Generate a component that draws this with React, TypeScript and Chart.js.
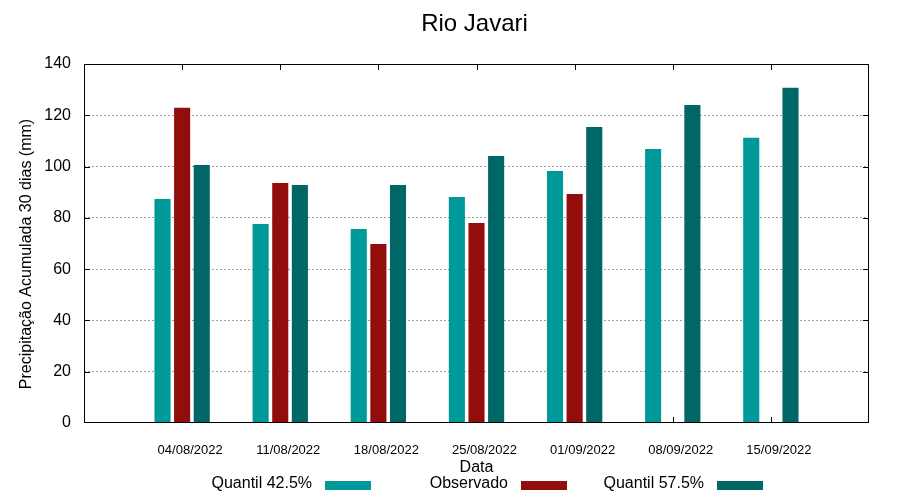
import { useEffect, useRef } from "react";
import { Chart, registerables } from "chart.js";

Chart.register(...registerables);

const chartTitle = "Rio Javari";
const xAxisTitle = "Data";
const yAxisTitle = "Precipitação Acumulada 30 dias (mm)";

const categories = [
  "04/08/2022",
  "11/08/2022",
  "18/08/2022",
  "25/08/2022",
  "01/09/2022",
  "08/09/2022",
  "15/09/2022",
];

const seriesNames = ["Quantil 42.5%", "Observado", "Quantil 57.5%"];
const quantil425 = [87.4, 77.6, 75.7, 88.1, 98.3, 106.9, 111.2];
const observado: (number | null)[] = [122.9, 93.6, 69.8, 78.0, 89.3, null, null];
const quantil575 = [100.6, 92.8, 92.8, 104.1, 115.4, 124.0, 130.7];

const yTicks = [0, 20, 40, 60, 80, 100, 120, 140];

const colors = ["#009999", "#940d0d", "#006666"];
const FONT = "'Liberation Sans', Arial, sans-serif";

// pad the category axis with an empty slot at each end (gnuplot-like range)
const padded = (arr: (number | null)[]) => [null, ...arr, null];
const labels = ["", ...categories, ""];

const decorPlugin = {
  id: "decor",
  beforeDatasetsDraw(chart: any) {
    const { ctx, chartArea: ca, scales } = chart;
    const y = scales.y;
    const x = scales.x;
    ctx.save();
    ctx.strokeStyle = "#000";
    ctx.lineWidth = 1;
    ctx.beginPath();
    yTicks.forEach((v) => {
      if (v === yTicks[0] || v === yTicks[yTicks.length - 1]) return;
      const py = Math.round(y.getPixelForValue(v)) + 0.5;
      ctx.moveTo(ca.left, py);
      ctx.lineTo(ca.left + 6, py);
      ctx.moveTo(ca.right, py);
      ctx.lineTo(ca.right - 6, py);
    });
    categories.forEach((_, i) => {
      const px = Math.round(x.getPixelForValue(i + 1)) + 0.5;
      ctx.moveTo(px, ca.bottom);
      ctx.lineTo(px, ca.bottom - 6);
      ctx.moveTo(px, ca.top);
      ctx.lineTo(px, ca.top + 6);
    });
    ctx.stroke();
    ctx.restore();
  },
  afterDraw(chart: any) {
    const { ctx, chartArea: ca } = chart;
    ctx.save();
    ctx.strokeStyle = "#000";
    ctx.lineWidth = 1;
    ctx.strokeRect(
      Math.round(ca.left) + 0.5,
      Math.round(ca.top) + 0.5,
      Math.round(ca.right - ca.left) - 1,
      Math.round(ca.bottom - ca.top) - 1
    );
    const cx = (ca.left + ca.right) / 2;
    ctx.fillStyle = "#000";
    ctx.textBaseline = "middle";
    ctx.textAlign = "center";
    ctx.font = `24px ${FONT}`;
    ctx.fillText(chartTitle, cx - 2, 24);
    ctx.font = `16px ${FONT}`;
    ctx.fillText(xAxisTitle, cx, 468);
    ctx.save();
    ctx.translate(27, 254);
    ctx.rotate(-Math.PI / 2);
    ctx.fillText(yAxisTitle, 0, 0);
    ctx.restore();

    // legend: text on the left, swatch on the right (gnuplot style)
    const startX = 325;
    const step = 196;
    chart.data.datasets.forEach((ds: any, i: number) => {
      const sx = startX + i * step;
      ctx.fillStyle = "#000";
      ctx.textAlign = "right";
      ctx.font = `16px ${FONT}`;
      ctx.fillText(ds.label, sx - 13, 484);
      ctx.fillStyle = ds.backgroundColor;
      ctx.fillRect(sx, 481, 46, 9);
    });
    ctx.restore();
  },
};

export default function App() {
  const canvasRef = useRef<HTMLCanvasElement | null>(null);

  useEffect(() => {
    document.body.style.margin = "0";
    const canvas = canvasRef.current;
    if (!canvas) return;
    const chart = new Chart(canvas, {
      type: "bar",
      data: {
        labels,
        datasets: [
          { label: seriesNames[0], data: padded(quantil425), backgroundColor: colors[0] },
          { label: seriesNames[1], data: padded(observado), backgroundColor: colors[1] },
          { label: seriesNames[2], data: padded(quantil575), backgroundColor: colors[2] },
        ],
      },
      options: {
        animation: false,
        responsive: true,
        maintainAspectRatio: false,
        devicePixelRatio: 1,
        layout: { padding: { top: 64, right: 31, left: 0, bottom: 0 } },
        datasets: {
          bar: { categoryPercentage: 0.6, barPercentage: 0.82 },
        } as any,
        plugins: {
          legend: { display: false },
          title: { display: false },
          tooltip: { enabled: false },
        },
        scales: {
          x: {
            type: "category",
            offset: false,
            grid: { display: false, drawTicks: false },
            border: { display: false },
            ticks: {
              autoSkip: false,
              maxRotation: 0,
              minRotation: 0,
              labelOffset: 8,
              padding: 20,
              color: "#000",
              font: { family: FONT, size: 13 },
            },
            afterFit: (scale: any) => {
              scale.height = 77;
            },
          },
          y: {
            min: yTicks[0],
            max: yTicks[yTicks.length - 1],
            ticks: {
              stepSize: 20,
              padding: 13,
              color: "#000",
              font: { family: FONT, size: 16 },
            },
            grid: {
              drawTicks: false,
              lineWidth: 1,
              color: (c: any) =>
                c.tick && (c.tick.value === yTicks[0] || c.tick.value === yTicks[yTicks.length - 1])
                  ? "rgba(0,0,0,0)"
                  : "#a0a0a0",
            },
            border: { display: false, dash: [2, 2] },
            afterFit: (scale: any) => {
              scale.width = 84;
            },
          },
        },
      },
      plugins: [decorPlugin],
    });
    return () => chart.destroy();
  }, []);

  return (
    <div style={{ width: 900, height: 500, position: "relative", background: "#fff" }}>
      <canvas ref={canvasRef} />
    </div>
  );
}
